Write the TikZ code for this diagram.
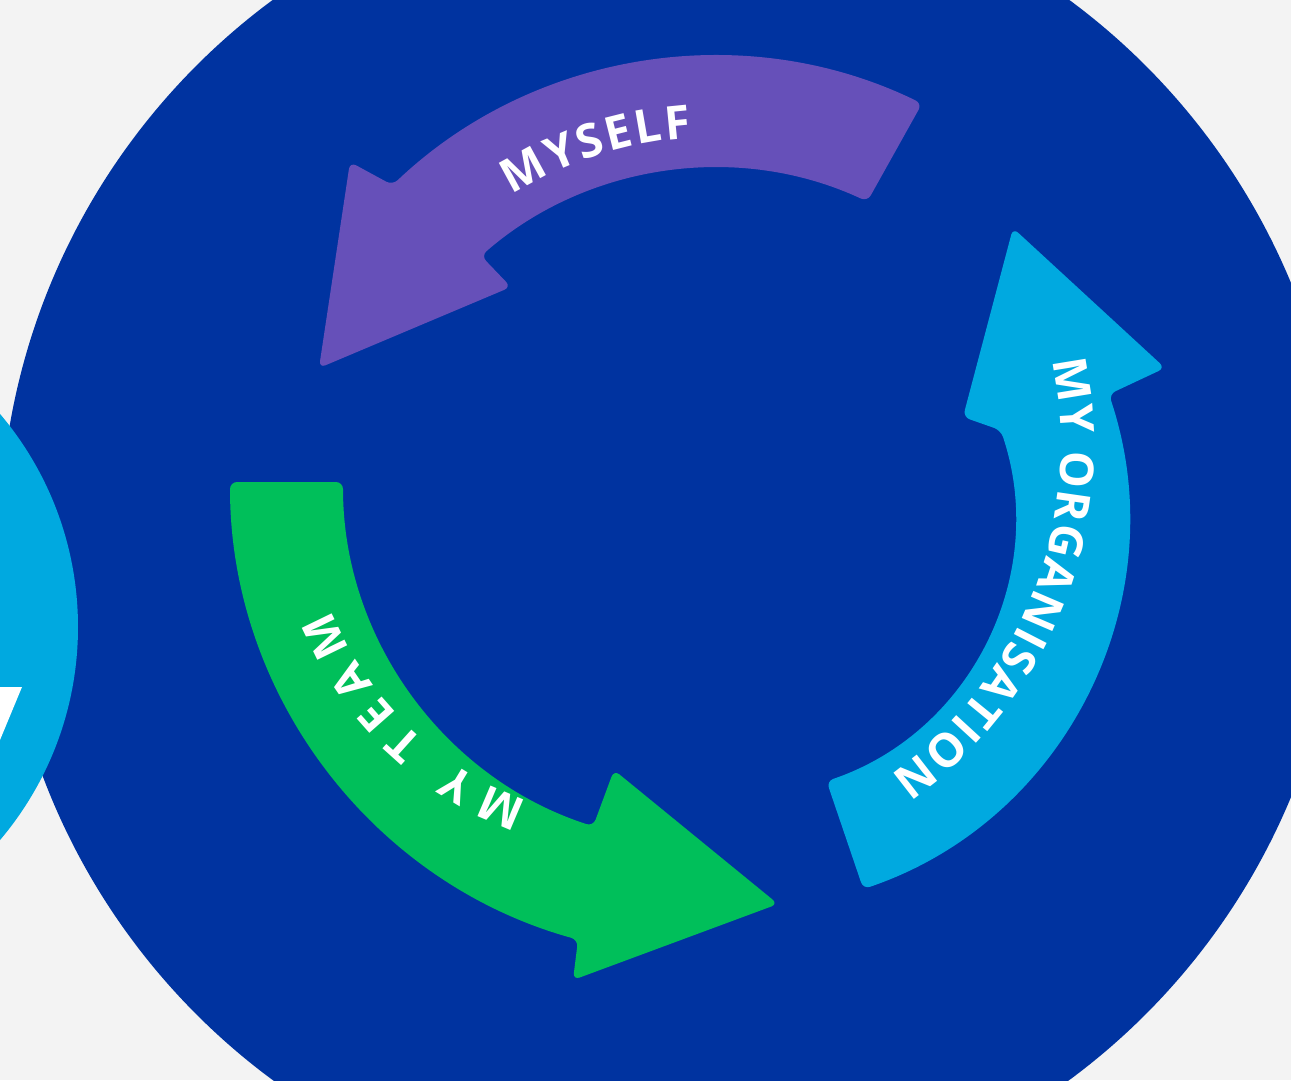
\documentclass[tikz,border=0pt]{standalone}
\usepackage{fontspec}
\setmainfont{Open Sans}
\newfontfamily\lblfam{Open Sans}
\newcommand\arrowfont{\lblfam\bfseries\fontsize{26.5}{30}\selectfont}
\usetikzlibrary{decorations.text}

\definecolor{paper}{HTML}{F3F3F3}
\definecolor{navy}{HTML}{0033A0}
\definecolor{sky}{HTML}{00A9E0}
\definecolor{lilac}{HTML}{6650B9}
\definecolor{leaf}{HTML}{00BF5A}

\tikzset{
  bigarrow/.style={rounded corners=4pt},
  arclabel/.style 2 args={decorate,decoration={text along path,text align=center,text color=white,text={|\arrowfont\kern#1|#2}}}
}

\begin{document}
\begin{tikzpicture}[line cap=round,line join=round,x=0.02cm,y=0.02cm]
\useasboundingbox (0,0) rectangle (1291,1080);
\clip (0,0) rectangle (1291,1080);
\fill[color=paper] (0,0) rectangle (1291,1080);
\fill[color=navy] (671,540) circle (671);
\fill[color=sky] (-252,453) circle (330);
\fill[color=white] (0,393) -- (22,393) -- (0,340) -- cycle;
% centres of the arrow arcs
\coordinate (P) at (716,554);
\coordinate (G) at (705,598);
\coordinate (B) at (737,562);
% centres of the label arcs
\coordinate (Gt) at (642,591);
\coordinate (Bt) at (659,634);
% myself
\fill[bigarrow,color=lilac] ([shift={(64:470)}]P) arc[start angle=64,end angle=133.5,radius=470]
  -- (350,918) -- (319,712) -- (511,793)
  -- ([shift={(131:358)}]P) arc[start angle=131,end angle=65,radius=358] -- cycle;
% my team
\fill[bigarrow,color=leaf] ([shift={(180:475)}]G) arc[start angle=180,end angle=254.5,radius=475]
  -- (573,100) -- (778,176) -- (614,310)
  -- ([shift={(252:362)}]G) arc[start angle=252,end angle=180,radius=362] -- cycle;
% my organisation
\fill[bigarrow,color=sky] ([shift={(-71.2:392)}]B) arc[start angle=-71.2,end angle=18.4,radius=392]
  -- (1165,712) -- (1013,852) -- (963,663)
  -- ([shift={(18.4:278)}]B) arc[start angle=18.4,end angle=-71.2,radius=278] -- cycle;
% labels
\path[arclabel={1.6pt}{MYSELF}] ([shift={(145:389)}]P) arc[start angle=145,end angle=70.6,radius=389];
\path[arclabel={6.5pt}{MY TEAM}] ([shift={(275:333)}]Gt) arc[start angle=275,end angle=178,radius=333];
\path[arclabel={1pt}{MY ORGANISATION}] ([shift={(26:402)}]Bt) arc[start angle=26,end angle=-68.4,radius=402];
\end{tikzpicture}
\end{document}
